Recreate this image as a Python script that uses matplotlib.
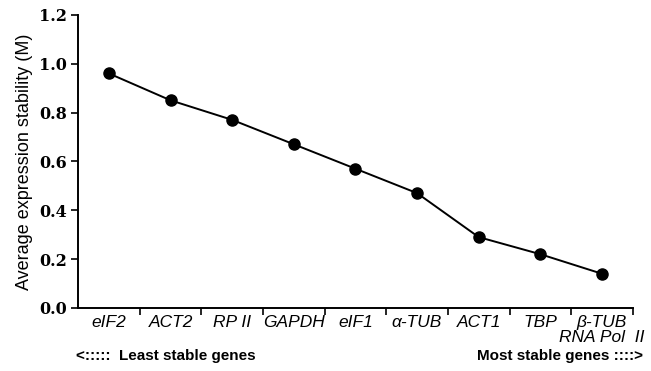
import numpy as np
import matplotlib.pyplot as plt

# Data
genes = ['eIF2', 'ACT2', 'RP II', 'GAPDH', 'eIF1', 'α-TUB', 'ACT1', 'TBP',
         'β-TUB\nRNA Pol  II']
stability = [0.96, 0.85, 0.77, 0.67, 0.57, 0.47, 0.29, 0.22, 0.14]
y_ticks = [0.0, 0.2, 0.4, 0.6, 0.8, 1.0, 1.2]

fig = plt.figure(figsize=(6.51, 3.71), dpi=100)
ax = fig.add_axes([0.12, 0.170, 0.852, 0.790])

x = np.arange(len(genes))
ax.plot(x, stability, color='black', lw=1.4, marker='o', markersize=8,
        markerfacecolor='black', markeredgecolor='black')

ax.set_xlim(-0.5, len(genes) - 0.5)
ax.set_ylim(0, 1.2)
ax.set_yticks(y_ticks)
ax.set_yticklabels(['%.1f' % v for v in y_ticks],
                   fontfamily='DejaVu Serif', fontweight='bold', fontsize=11.5)

ax.set_xticks(x)
ax.set_xticklabels(genes, fontfamily='Liberation Sans', fontstyle='italic',
                   fontsize=12.5, linespacing=1.0, va='top')
ax.tick_params(axis='x', which='major', length=0, pad=5)
ax.set_xticks(np.arange(0.5, len(genes), 1.0), minor=True)
ax.tick_params(axis='x', which='minor', length=5, width=1.2, direction='out')
ax.tick_params(axis='y', length=5, width=1.2, direction='out', pad=3)

for s in ['top', 'right']:
    ax.spines[s].set_visible(False)
for s in ['left', 'bottom']:
    ax.spines[s].set_linewidth(1.4)

ax.set_ylabel('Average expression stability (M)', fontfamily='Liberation Sans',
              fontsize=13, labelpad=4)

fig.text(0.116, 0.040, '<:::::  Least stable genes', fontfamily='Liberation Sans',
         fontweight='bold', fontsize=11, ha='left', va='center')
fig.text(0.988, 0.040, 'Most stable genes ::::>', fontfamily='Liberation Sans',
         fontweight='bold', fontsize=11, ha='right', va='center')

plt.savefig('out.png', dpi=100)
